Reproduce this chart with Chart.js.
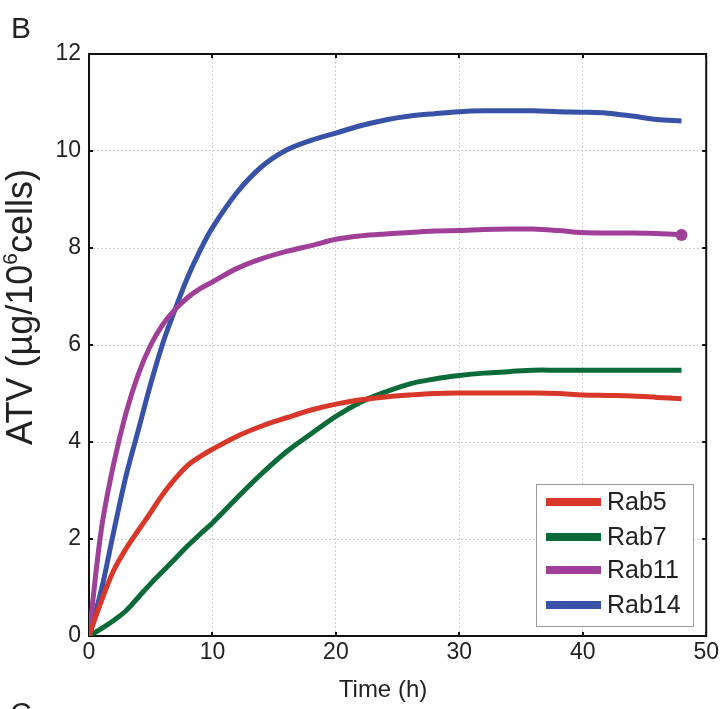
<!DOCTYPE html>
<html>
<head>
<meta charset="utf-8">
<title>ATV uptake</title>
<script src="https://cdn.jsdelivr.net/npm/chart.js@4.4.1/dist/chart.umd.min.js"></script>
<style>
  html, body { margin: 0; padding: 0; background: #fff; }
  #wrap { width: 722px; height: 709px; position: relative; }
</style>
</head>
<body>
<div id="wrap"><canvas id="atvChart"></canvas></div>
<script>
// time axis (h) and ATV values
const timeH = [0, 1, 2, 3, 4, 5, 6, 7, 8, 9, 10, 12, 14, 16, 18, 20, 22, 24, 26, 28, 30, 32, 34, 36, 38, 40, 42, 44, 46, 48];
const rab5  = [0, 0.72, 1.35, 1.8, 2.18, 2.55, 2.93, 3.25, 3.52, 3.7, 3.85, 4.12, 4.33, 4.5, 4.66, 4.78, 4.87, 4.93, 4.97, 5.0, 5.01, 5.01, 5.01, 5.01, 5.0, 4.97, 4.96, 4.95, 4.92, 4.89];
const rab7  = [0, 0.15, 0.32, 0.52, 0.8, 1.08, 1.34, 1.6, 1.86, 2.1, 2.33, 2.85, 3.35, 3.8, 4.17, 4.53, 4.82, 5.03, 5.2, 5.3, 5.37, 5.42, 5.45, 5.48, 5.48, 5.48, 5.48, 5.48, 5.48, 5.48];
const rab11 = [0, 2.2, 3.55, 4.6, 5.4, 6.0, 6.43, 6.74, 6.98, 7.16, 7.3, 7.58, 7.78, 7.93, 8.05, 8.18, 8.25, 8.29, 8.32, 8.35, 8.36, 8.38, 8.39, 8.39, 8.36, 8.32, 8.31, 8.31, 8.3, 8.27];
const rab14 = [0, 0.95, 2.15, 3.3, 4.25, 5.2, 6.05, 6.75, 7.4, 7.95, 8.42, 9.15, 9.68, 10.02, 10.22, 10.37, 10.52, 10.64, 10.72, 10.77, 10.81, 10.83, 10.83, 10.83, 10.81, 10.8, 10.78, 10.72, 10.65, 10.62];

const seriesLabels = ['Rab5', 'Rab7', 'Rab11', 'Rab14'];
const seriesColors = ['#d8372a', '#0a6a38', '#a03f98', '#3752a6'];
const xTicks = [0, 10, 20, 30, 40, 50];
const yTicks = [0, 2, 4, 6, 8, 10, 12];

const FONT = '"Liberation Sans", Arial, Helvetica, sans-serif';

function toPoints(values) {
  return timeH.map((t, i) => ({ x: t, y: values[i] }));
}

// box, inward ticks, titles, panel letters and the legend
const decorPlugin = {
  id: 'decor',
  beforeDatasetsDraw(chart) {
    const { ctx, chartArea: a, scales } = chart;
    ctx.save();
    ctx.strokeStyle = '#111';
    ctx.lineWidth = 2;
    ctx.strokeRect(a.left, a.top, a.right - a.left, a.bottom - a.top);
    xTicks.forEach(v => {
      const px = Math.round(scales.x.getPixelForValue(v));
      ctx.beginPath();
      ctx.moveTo(px, a.bottom); ctx.lineTo(px, a.bottom - 4);
      ctx.moveTo(px, a.top); ctx.lineTo(px, a.top + 4);
      ctx.stroke();
    });
    yTicks.forEach(v => {
      const py = Math.round(scales.y.getPixelForValue(v));
      ctx.beginPath();
      ctx.moveTo(a.left, py); ctx.lineTo(a.left + 4, py);
      ctx.moveTo(a.right, py); ctx.lineTo(a.right - 4, py);
      ctx.stroke();
    });
    ctx.restore();
  },
  afterDraw(chart) {
    const { ctx } = chart;
    ctx.save();
    ctx.fillStyle = '#222';

    // panel letters
    ctx.font = '30px ' + FONT;
    ctx.textAlign = 'left';
    ctx.textBaseline = 'alphabetic';
    ctx.fillText('B', 11, 38);
    ctx.fillText('C', 10, 723);

    // x title
    ctx.font = '24px ' + FONT;
    ctx.textAlign = 'center';
    ctx.textBaseline = 'middle';
    ctx.fillText('Time (h)', 383, 690);

    // y title with superscript
    ctx.translate(20, 307);
    ctx.rotate(-Math.PI / 2);
    const big = '36px ' + FONT;
    const small = '21px ' + FONT;
    const partA = 'ATV (\u00b5g/10', sup = '6', partB = 'cells)';
    ctx.font = big;
    const wA = ctx.measureText(partA).width;
    const wB = ctx.measureText(partB).width;
    ctx.font = small;
    const wS = ctx.measureText(sup).width;
    const x0 = -(wA + wS + wB) / 2;
    ctx.textAlign = 'left';
    ctx.textBaseline = 'alphabetic';
    ctx.font = big;
    ctx.fillText(partA, x0, 12);
    ctx.font = small;
    ctx.fillText(sup, x0 + wA, -3);
    ctx.font = big;
    ctx.fillText(partB, x0 + wA + wS, 12);
    ctx.setTransform(1, 0, 0, 1, 0, 0);

    // legend box
    const lx = 536, ly = 484, lw = 157, lh = 142;
    ctx.fillStyle = '#fff';
    ctx.fillRect(lx, ly, lw, lh);
    ctx.strokeStyle = '#9a9a9a';
    ctx.lineWidth = 1;
    ctx.strokeRect(lx + 0.5, ly + 0.5, lw, lh);
    const rows = [502, 537, 570, 605];
    ctx.font = '25px ' + FONT;
    ctx.textBaseline = 'middle';
    ctx.textAlign = 'left';
    seriesLabels.forEach((lab, i) => {
      ctx.strokeStyle = seriesColors[i];
      ctx.lineWidth = 8;
      ctx.beginPath();
      ctx.moveTo(546, rows[i]);
      ctx.lineTo(601, rows[i]);
      ctx.stroke();
      ctx.fillStyle = '#222';
      ctx.fillText(lab, 607, rows[i] + 1);
    });
    ctx.restore();
  }
};

const allSeries = [rab5, rab7, rab11, rab14];
const datasets = allSeries.map((vals, i) => ({
  label: seriesLabels[i],
  data: toPoints(vals),
  borderColor: seriesColors[i],
  backgroundColor: seriesColors[i],
  borderWidth: 5,
  tension: 0.35,
  pointRadius: seriesLabels[i] === 'Rab11' ? vals.map((v, j) => (j === vals.length - 1 ? 6 : 0)) : 0,
  pointBorderWidth: 0,
  fill: false
}));

new Chart(document.getElementById('atvChart'), {
  type: 'line',
  data: { datasets },
  options: {
    responsive: true,
    maintainAspectRatio: false,
    animation: false,
    layout: { padding: { top: 54, right: 15, left: 0, bottom: 0 } },
    plugins: {
      legend: { display: false },
      tooltip: { enabled: false }
    },
    scales: {
      x: {
        type: 'linear',
        min: 0,
        max: 50,
        afterFit: s => { s.height = 73; },
        afterBuildTicks: s => { s.ticks = xTicks.map(v => ({ value: v })); },
        ticks: {
          padding: 3,
          color: '#222',
          font: { family: FONT, size: 23 },
          maxRotation: 0
        },
        grid: { color: '#cfcfcf', lineWidth: 1, drawTicks: false },
        border: { display: false, dash: [2, 2] }
      },
      y: {
        type: 'linear',
        min: 0,
        max: 12,
        afterFit: s => { s.width = 89; },
        afterBuildTicks: s => { s.ticks = yTicks.map(v => ({ value: v })); },
        ticks: {
          padding: 8,
          color: '#222',
          font: { family: FONT, size: 23 }
        },
        grid: { color: '#cfcfcf', lineWidth: 1, drawTicks: false },
        border: { display: false, dash: [2, 2] }
      }
    }
  },
  plugins: [decorPlugin]
});
</script>
</body>
</html>
